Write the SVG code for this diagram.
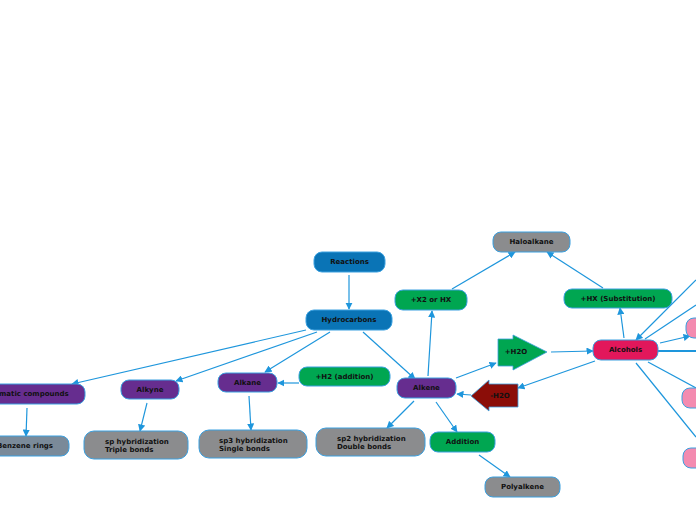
<svg xmlns="http://www.w3.org/2000/svg" width="696" height="520" viewBox="0 0 696 520">
<defs>
<style>
.n{stroke:#3aa0e0;stroke-width:1}
.t{font-family:"DejaVu Sans",sans-serif;font-size:7px;font-weight:bold;fill:#111;text-anchor:middle;dominant-baseline:middle}
.tl{font-family:"DejaVu Sans",sans-serif;font-size:7px;font-weight:bold;fill:#111}
.blue{fill:#0a74b6}.pur{fill:#662d8f}.grn{fill:#00a651}.gry{fill:#8b8c8e}.red{fill:#e2175b}.pink{fill:#f38bb0}
.c{stroke:#1e96dc;stroke-width:1.2;fill:none}
</style>
<marker id="a" viewBox="0 0 10 10" refX="9" refY="5" markerWidth="6" markerHeight="6" orient="auto"><path d="M0,0L10,5L0,10z" fill="#1e96dc"/></marker>
</defs>
<rect width="696" height="520" fill="#fff"/>
<g id="connectors">
<path class="c" d="M349,275V309" marker-end="url(#a)"/>
<path class="c" d="M306,330L72,384" marker-end="url(#a)"/>
<path class="c" d="M317,332L176,381" marker-end="url(#a)"/>
<path class="c" d="M330,332L265,372" marker-end="url(#a)"/>
<path class="c" d="M363,332L415,379" marker-end="url(#a)"/>
<path class="c" d="M27,408L26,436" marker-end="url(#a)"/>
<path class="c" d="M147,403L140,431" marker-end="url(#a)"/>
<path class="c" d="M249,396L251,430" marker-end="url(#a)"/>
<path class="c" d="M299,383L278,383" marker-end="url(#a)"/>
<path class="c" d="M428,376L432,311" marker-end="url(#a)"/>
<path class="c" d="M452,289L515,252" marker-end="url(#a)"/>
<path class="c" d="M603,288L547,252" marker-end="url(#a)"/>
<path class="c" d="M624,338L620,308" marker-end="url(#a)"/>
<path class="c" d="M414,401L387,428" marker-end="url(#a)"/>
<path class="c" d="M436,402L457,432" marker-end="url(#a)"/>
<path class="c" d="M479,455L510,477" marker-end="url(#a)"/>
<path class="c" d="M456,378L496,363" marker-end="url(#a)"/>
<path class="c" d="M551,352L593,351" marker-end="url(#a)"/>
<path class="c" d="M595,361L518,388" marker-end="url(#a)"/>
<path class="c" d="M471,395L457,394" marker-end="url(#a)"/>
<path class="c" d="M696,280L636,340" marker-end="url(#a)"/>
<path class="c" d="M645,339L696,305"/>
<path class="c" d="M660,343L690,336" marker-end="url(#a)"/>
<path class="c" d="M658,351H696" style="stroke-width:2"/>
<path class="c" d="M648,362L696,388"/>
<path class="c" d="M636,363L696,437"/>
</g>
<g id="reactions"><rect class="n blue" x="314" y="252" width="71" height="20" rx="8"/><text class="t" x="349.5" y="262.5">Reactions</text></g>
<g id="hydrocarbons"><rect class="n blue" x="306" y="310" width="86" height="20" rx="8"/><text class="t" x="349" y="320.5">Hydrocarbons</text></g>
<g id="aromatic"><rect class="n pur" x="-30" y="384" width="115" height="20" rx="8"/><text class="t" x="27" y="394.5">Aromatic compounds</text></g>
<g id="benzene"><rect class="n" fill="#7a8a99" x="-20" y="436" width="89" height="20" rx="8"/><text class="t" x="25" y="446.5">Benzene rings</text></g>
<g id="alkyne"><rect class="n pur" x="121" y="380" width="58" height="19" rx="8"/><text class="t" x="150" y="390">Alkyne</text></g>
<g id="alkane"><rect class="n pur" x="218" y="373" width="59" height="19" rx="8"/><text class="t" x="247.5" y="383">Alkane</text></g>
<g id="h2"><rect class="n grn" x="299" y="367" width="91" height="19" rx="8"/><text class="t" x="344.5" y="377">+H2 (addition)</text></g>
<g id="alkene"><rect class="n pur" x="397" y="378" width="59" height="20" rx="8"/><text class="t" x="426.5" y="388.5">Alkene</text></g>
<g id="x2"><rect class="n grn" x="395" y="290" width="72" height="20" rx="8"/><text class="t" x="431" y="300.5">+X2 or HX</text></g>
<g id="haloalkane"><rect class="n gry" x="493" y="232" width="77" height="20" rx="8"/><text class="t" x="531.5" y="242.5">Haloalkane</text></g>
<g id="hx"><rect class="n grn" x="564" y="289" width="108" height="19" rx="8"/><text class="t" x="618" y="299">+HX (Substitution)</text></g>
<g id="alcohols"><rect class="n red" x="593" y="340" width="65" height="20" rx="8"/><text class="t" x="625.5" y="350.5">Alcohols</text></g>
<g id="plush2o"><path d="M498,339H513V335L547,352L513,370V366H498Z" fill="#00a651" stroke="#3aa0e0" stroke-width="0.8"/><text class="t" x="516" y="352.5">+H2O</text></g>
<g id="minush2o"><path d="M518,384H489V380L471,396L489,411V407H518Z" fill="#8b0d08" stroke="#3aa0e0" stroke-width="0.8"/><text class="t" x="500" y="396.5">-H2O</text></g>
<g id="sp"><rect class="n gry" x="84" y="431" width="104" height="28" rx="10"/><text class="tl" x="105" y="443.5">sp hybridization</text><text class="tl" x="105" y="451.5">Triple bonds</text></g>
<g id="sp3"><rect class="n gry" x="199" y="430" width="108" height="28" rx="10"/><text class="tl" x="219" y="442.5">sp3 hybridization</text><text class="tl" x="219" y="450.5">Single bonds</text></g>
<g id="sp2"><rect class="n gry" x="316" y="428" width="109" height="28" rx="10"/><text class="tl" x="337" y="440.5">sp2 hybridization</text><text class="tl" x="337" y="448.5">Double bonds</text></g>
<g id="addition"><rect class="n grn" x="430" y="432" width="65" height="20" rx="8"/><text class="t" x="462.5" y="442.5">Addition</text></g>
<g id="polyalkene"><rect class="n gry" x="485" y="477" width="75" height="20" rx="8"/><text class="t" x="522.5" y="487.5">Polyalkene</text></g>
<g id="p1"><rect class="n pink" x="686" y="318" width="40" height="20" rx="8"/></g>
<g id="p2"><rect class="n pink" x="682" y="388" width="40" height="20" rx="8"/></g>
<g id="p3"><rect class="n pink" x="683" y="448" width="40" height="20" rx="8"/></g>
</svg>
